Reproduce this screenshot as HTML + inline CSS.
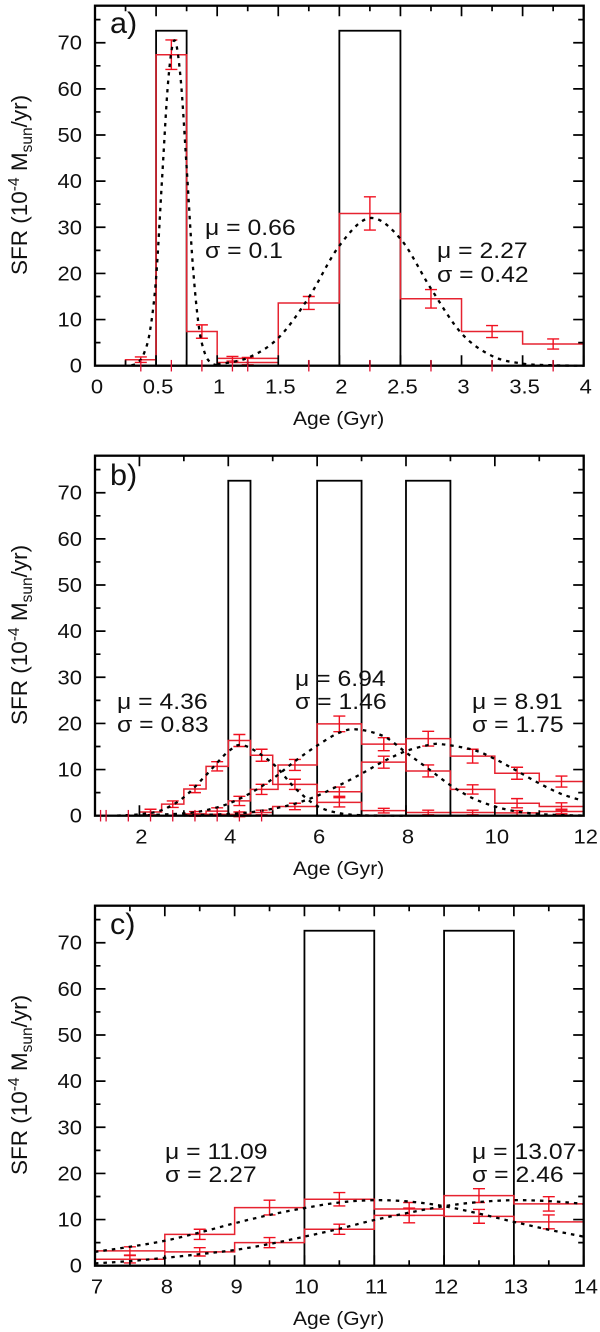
<!DOCTYPE html>
<html lang="en">
<head>
<meta charset="utf-8">
<title>Star formation rate versus age</title>
<style>
  html, body { margin: 0; padding: 0; background: #fff; }
  svg { display: block; }
  text { font-family: "Liberation Sans", sans-serif; fill: #111; }
  .stat { font-size: 22.5px; }
  .panel-tag { font-size: 30px; }
  .ytitle { font-size: 22.5px; }
  .xtitle { font-size: 19.5px; }
</style>
</head>
<body>
<svg id="chart" xmlns="http://www.w3.org/2000/svg" width="600" height="1332" viewBox="0 0 600 1332">
  <rect x="0" y="0" width="600" height="1332" fill="#fff"/>
  <g id="marks"></g>

  <g>
    <text class="panel-tag" transform="translate(110 33) scale(1.02 1)">a)</text>
    <text class="stat" transform="translate(205 235) scale(1.1 1)">μ = 0.66</text>
    <text class="stat" transform="translate(205 258) scale(1.1 1)">σ = 0.1</text>
    <text class="stat" transform="translate(437 258) scale(1.1 1)">μ = 2.27</text>
    <text class="stat" transform="translate(437 282) scale(1.1 1)">σ = 0.42</text>
    <text class="ytitle" transform="translate(27 275) rotate(-90)">SFR (10<tspan dy="-8" font-size="15.5">-4</tspan><tspan dy="8"> M</tspan><tspan dy="5" font-size="15.5">sun</tspan><tspan dy="-5">/yr)</tspan></text>
    <text class="xtitle" transform="translate(293 425) scale(1.08 1)">Age (Gyr)</text>
  </g>

  <g>
    <text class="panel-tag" transform="translate(110 485) scale(1.02 1)">b)</text>
    <text class="stat" transform="translate(117 709) scale(1.1 1)">μ = 4.36</text>
    <text class="stat" transform="translate(117 732) scale(1.1 1)">σ = 0.83</text>
    <text class="stat" transform="translate(295 686) scale(1.1 1)">μ = 6.94</text>
    <text class="stat" transform="translate(295 709) scale(1.1 1)">σ = 1.46</text>
    <text class="stat" transform="translate(472 709) scale(1.1 1)">μ = 8.91</text>
    <text class="stat" transform="translate(472 732) scale(1.1 1)">σ = 1.75</text>
    <text class="ytitle" transform="translate(27 725) rotate(-90)">SFR (10<tspan dy="-8" font-size="15.5">-4</tspan><tspan dy="8"> M</tspan><tspan dy="5" font-size="15.5">sun</tspan><tspan dy="-5">/yr)</tspan></text>
    <text class="xtitle" transform="translate(293 875) scale(1.08 1)">Age (Gyr)</text>
  </g>

  <g>
    <text class="panel-tag" transform="translate(110 934) scale(1.02 1)">c)</text>
    <text class="stat" transform="translate(165 1159) scale(1.1 1)">μ = 11.09</text>
    <text class="stat" transform="translate(165 1182) scale(1.1 1)">σ = 2.27</text>
    <text class="stat" transform="translate(472 1159) scale(1.1 1)">μ = 13.07</text>
    <text class="stat" transform="translate(472 1182) scale(1.1 1)">σ = 2.46</text>
    <text class="ytitle" transform="translate(27 1175) rotate(-90)">SFR (10<tspan dy="-8" font-size="15.5">-4</tspan><tspan dy="8"> M</tspan><tspan dy="5" font-size="15.5">sun</tspan><tspan dy="-5">/yr)</tspan></text>
    <text class="xtitle" transform="translate(293 1325) scale(1.08 1)">Age (Gyr)</text>
  </g>
</svg>

<script>
// ---------- shared axis data ----------
const yMajorTicks = [0, 10, 20, 30, 40, 50, 60, 70];
const yMinorTicks = [5, 15, 25, 35, 45, 55, 65, 75];

// ---------- panel a ----------
const aXDomain = [0, 4];
const aXMajor = [0, 0.5, 1, 1.5, 2, 2.5, 3, 3.5, 4];
const aXMajorLabels = ["0", "0.5", "1", "1.5", "2", "2.5", "3", "3.5", "4"];
const aXMinor = [0.25, 0.75, 1.25, 1.75, 2.25, 2.75, 3.25, 3.75];
const aBarStarts = [0.5, 2];
const aBarEnds = [0.75, 2.5];
const aBarHeights = [72.6, 72.6];
const aEdges1 = [0.25, 0.5, 0.75, 1, 1.5, 2, 2.5, 3, 3.5, 4];
const aValues1 = [1.3, 67.4, 7.4, 1.6, 13.6, 33, 14.5, 7.4, 4.7];
const aEdges2 = [1, 1.5];
const aValues2 = [0.7];
const aErrX = [0.375, 0.625, 0.875, 1.125, 1.25, 1.75, 2.25, 2.75, 3.25, 3.75];
const aErrY = [1.3, 67.4, 7.4, 1.5, 1, 13.6, 33, 14.5, 7.4, 4.7];
const aErrE = [0.6, 3.2, 1.45, 0.5, 0.8, 1.4, 3.6, 2, 1.3, 1.1];
const aZeroX = [0.375, 0.625, 0.875, 1.125, 1.25, 1.75, 2.25, 2.75, 3.25, 3.75];
const aCurve1X = [0.3, 0.35, 0.4, 0.45, 0.5, 0.55, 0.6, 0.65, 0.7, 0.75, 0.8, 0.85, 0.9, 0.95, 1.0];
const aCurve1Y = [0.1, 0.6, 2.6, 7.5, 19, 41, 62, 70.5, 62.5, 43, 22, 8.5, 2.6, 0.6, 0.1];
const aCurve2X = [1.0, 1.25, 1.5, 1.75, 2, 2.25, 2.5, 2.75, 3, 3.25, 3.5, 3.75, 4];
const aCurve2Y = [0.3, 1.7, 6, 14.8, 26, 32, 27.5, 16.7, 7, 2.1, 0.45, 0.1, 0];

// ---------- panel b ----------
const bXDomain = [1, 12];
const bXMajor = [2, 4, 6, 8, 10, 12];
const bXMajorLabels = ["2", "4", "6", "8", "10", "12"];
const bXMinor = [3, 5, 7, 9, 11];
const bBarStarts = [4, 6, 8];
const bBarEnds = [4.5, 7, 9];
const bBarHeights = [72.6, 72.6, 72.6];
const bEdges1 = [2, 2.5, 3, 3.5, 4, 4.5, 5, 6, 7, 8, 9, 10, 11, 12];
const bValues1 = [0.8, 2.5, 5.8, 10.7, 16.3, 13.1, 6.8, 2.9, 1.1, 0.7, 0.7, 0.6, 0.9];
const bEdges2 = [3, 3.5, 4, 4.5, 5.12, 6, 7, 8, 9, 10, 11, 12];
const bValues2 = [0.4, 1, 3.2, 5.7, 11, 19.9, 15.5, 9.7, 5.7, 2.7, 2];
const bEdges3 = [3, 3.5, 4, 4.5, 5, 6, 7, 8, 9, 10, 11, 12];
const bValues3 = [0.2, 0.3, 0.3, 0.7, 2, 5.2, 11.6, 16.7, 12.9, 9.2, 7.4];
const bErr1X = [2.25, 2.75, 3.25, 3.75, 4.25, 4.75, 5.5, 6.5, 7.5, 8.5, 9.5, 10.5, 11.5];
const bErr1Y = [0.8, 2.5, 5.8, 10.7, 16.3, 13.1, 6.8, 2.9, 1.1, 0.7, 0.7, 0.6, 0.9];
const bErr1E = [0.6, 0.7, 0.8, 1, 1.3, 1.3, 1.1, 1, 0.5, 0.5, 0.5, 0.5, 0.5];
const bErr2X = [3.25, 3.75, 4.25, 4.75, 5.5, 6.5, 7.5, 8.5, 9.5, 10.5, 11.5];
const bErr2Y = [0.4, 1, 3.2, 5.7, 11, 19.9, 15.5, 9.7, 5.7, 2.7, 2];
const bErr2E = [0.5, 0.7, 1, 1.1, 1.2, 1.7, 1.4, 1.3, 1, 1, 0.8];
const bErr3X = [4.25, 4.75, 5.5, 6.5, 7.5, 8.5, 9.5, 10.5, 11.5];
const bErr3Y = [0.3, 0.7, 2, 5.2, 11.6, 16.7, 12.9, 9.2, 7.4];
const bErr3E = [0.5, 0.5, 0.7, 1, 1.3, 1.6, 1.5, 1.3, 1.2];
const bZeroX = [1.125, 1.25, 1.75, 2.25, 2.75, 3.25, 3.75, 4.25, 4.75];
const bCurve1X = [1.5, 2, 2.5, 3, 3.5, 4, 4.36, 5, 5.5, 6, 6.5, 7, 7.5, 8];
const bCurve1Y = [0.05, 0.3, 1.2, 4, 8.8, 13.9, 15.2, 11.3, 6, 2.1, 0.55, 0.1, 0.02, 0];
const bCurve2X = [2, 3, 3.5, 4, 4.5, 5, 5.5, 6, 6.5, 6.9, 7.5, 8, 8.5, 9, 9.5, 10, 10.5, 11, 11.5, 12];
const bCurve2Y = [0.04, 0.5, 1.2, 2.6, 4.9, 8, 11.8, 15.2, 18, 18.7, 17.2, 13.7, 10.2, 6.6, 3.8, 2, 0.9, 0.36, 0.13, 0.04];
const bCurve3X = [3, 4, 4.5, 5, 5.5, 6, 6.5, 7, 7.5, 8, 8.5, 8.8, 9.5, 10, 10.5, 11, 11.5, 12];
const bCurve3Y = [0.06, 0.36, 0.75, 1.5, 2.6, 4.3, 6.6, 9.1, 11.8, 14, 15.3, 15.5, 14.3, 12.3, 9.7, 7, 4.7, 3.2];

// ---------- panel c ----------
const cXDomain = [7, 14];
const cXMajor = [7, 8, 9, 10, 11, 12, 13, 14];
const cXMajorLabels = ["7", "8", "9", "10", "11", "12", "13", "14"];
const cXMinor = [7.5, 8.5, 9.5, 10.5, 11.5, 12.5, 13.5];
const cBarStarts = [10, 12];
const cBarEnds = [11, 13];
const cBarHeights = [72.6, 72.6];
const cEdges = [7, 8, 9, 10, 11, 12, 13, 14];
const cValues1 = [3.2, 6.8, 12.6, 14.4, 12.3, 10.7, 9.5];
const cValues2 = [1.4, 3, 5, 7.9, 10.9, 15.2, 13.4];
const cErrX = [7.5, 8.5, 9.5, 10.5, 11.5, 12.5, 13.5];
const cErr1E = [0.9, 1.1, 1.6, 1.45, 1.4, 1.5, 1.5];
const cErr2E = [0.8, 0.9, 1.1, 1.1, 1.6, 1.5, 1.55];
const cCurve1X = [7, 7.5, 8, 8.5, 9, 9.5, 10, 10.5, 11, 11.5, 12, 12.5, 13, 13.5, 14];
const cCurve1Y = [3, 4.1, 5.4, 7.2, 9.2, 11, 12.5, 13.7, 14.2, 13.9, 12.9, 11.3, 9.5, 7.8, 6.3];
const cCurve2Y = [0.5, 1, 1.7, 2.5, 3.4, 4.7, 6.3, 8, 9.9, 11.5, 12.9, 13.8, 14.2, 14, 13.4];

// ---------- drawing ----------
const NS = "http://www.w3.org/2000/svg";
const root = document.getElementById("marks");
const RED = "#e62330";
const plotLeft = 95;
const plotRight = 583.7;
const plotHeight = 360;
const yScale = 4.614;
const tickLong = 10.5;
const tickShort = 5.5;
const capHalf = 6;
const zeroHalf = 1.25;

function make(tag, attrs, parent) {
  const node = document.createElementNS(NS, tag);
  for (const k in attrs) node.setAttribute(k, attrs[k]);
  parent.appendChild(node);
  return node;
}

function smoothPath(px, py) {
  let d = "M" + px[0].toFixed(2) + " " + py[0].toFixed(2);
  for (let i = 0; i < px.length - 1; i++) {
    const i0 = Math.max(i - 1, 0), i3 = Math.min(i + 2, px.length - 1);
    const c1x = px[i] + (px[i + 1] - px[i0]) / 6, c1y = py[i] + (py[i + 1] - py[i0]) / 6;
    const c2x = px[i + 1] - (px[i3] - px[i]) / 6, c2y = py[i + 1] - (py[i3] - py[i]) / 6;
    d += "C" + c1x.toFixed(2) + " " + c1y.toFixed(2) + " " + c2x.toFixed(2) + " " + c2y.toFixed(2) + " " + px[i + 1].toFixed(2) + " " + py[i + 1].toFixed(2);
  }
  return d;
}

function drawPanel(p) {
  const bottom = p.bottom;
  const top = bottom - plotHeight;
  const xs = v => plotLeft + (v - p.domain[0]) / (p.domain[1] - p.domain[0]) * (plotRight - plotLeft);
  const ys = v => bottom - v * yScale;

  const g = make("g", {}, root);
  
  

  // black burst boxes
  p.barStarts.forEach((s, i) => {
    const bar = make("rect", {
      x: xs(s), y: ys(p.barHeights[i]),
      width: xs(p.barEnds[i]) - xs(s), height: p.barHeights[i] * yScale,
      fill: "none", stroke: "#000", "stroke-width": 1.8
    }, g);
    
    
  });

  // red histograms
  p.steps.forEach(st => {
    let d = "M" + xs(st.edges[0]) + " " + ys(0);
    st.values.forEach((v, i) => {
      d += "L" + xs(st.edges[i]) + " " + ys(v) + "L" + xs(st.edges[i + 1]) + " " + ys(v);
    });
    const step = make("path", { d: d, fill: "none", stroke: RED, "stroke-width": 1.5 }, g);
    
    
  });

  // error bars
  p.errors.forEach(er => {
    er.x.forEach((x, i) => {
      const hi = ys(er.y[i] + er.e[i]), lo = ys(er.y[i] - er.e[i]), cx = xs(x);
      const d = "M" + cx + " " + hi + "L" + cx + " " + lo +
        "M" + (cx - capHalf) + " " + hi + "L" + (cx + capHalf) + " " + hi +
        "M" + (cx - capHalf) + " " + lo + "L" + (cx + capHalf) + " " + lo;
      const bar = make("path", { d: d, fill: "none", stroke: "#f01020", "stroke-width": 1.4 }, g);
      
      
    });
  });

  // gaussian fits
  p.curves.forEach(c => {
    const curve = make("path", {
      d: smoothPath(c.x.map(xs), c.y.map(ys)), fill: "none", stroke: "#000",
      "stroke-width": 2.3, "stroke-dasharray": "3.5 5"
    }, g);
    
    
  });

  // ticks
  let tickPath = "";
  yMajorTicks.forEach(v => {
    if (v === 0) return;
    tickPath += "M" + plotLeft + " " + ys(v) + "h" + tickLong + "M" + plotRight + " " + ys(v) + "h-" + tickLong;
  });
  yMinorTicks.forEach(v => {
    tickPath += "M" + plotLeft + " " + ys(v) + "h" + tickShort + "M" + plotRight + " " + ys(v) + "h-" + tickShort;
  });
  p.xMajor.forEach(v => {
    tickPath += "M" + xs(v) + " " + bottom + "v-" + tickLong + "M" + xs(v) + " " + top + "v" + tickLong;
  });
  p.xMinor.forEach(v => {
    tickPath += "M" + xs(v) + " " + bottom + "v-" + tickShort + "M" + xs(v) + " " + top + "v" + tickShort;
  });
  const ticks = make("path", { d: tickPath, fill: "none", stroke: "#000", "stroke-width": 1.7 }, g);
  
  

  // frame
  const frame = make("rect", {
    x: plotLeft, y: top, width: plotRight - plotLeft, height: plotHeight,
    fill: "none", stroke: "#000", "stroke-width": 2.3
  }, g);
  
  

  // zero-level error ticks sit over the baseline
  p.zeroX.forEach(x => {
    const z = make("line", {
      x1: xs(x), x2: xs(x), y1: ys(zeroHalf), y2: ys(-zeroHalf),
      stroke: "#e01030", "stroke-width": 1.3
    }, g);
    
    
  });

  // tick labels
  yMajorTicks.forEach(v => {
    const t = make("text", {
      transform: "translate(82 " + (ys(v) + 7) + ") scale(1.1 1)",
      "text-anchor": "end", "font-size": 20
    }, g);
    t.textContent = String(v);
    
    
  });
  p.xMajor.forEach((v, i) => {
    const t = make("text", {
      transform: "translate(" + (xs(v) + 2) + " " + (bottom + 28) + ") scale(1.1 1)",
      "text-anchor": "middle", "font-size": 20
    }, g);
    t.textContent = p.xLabels[i];
    
    
  });
}

drawPanel({
  id: "a", bottom: 365.7, domain: aXDomain,
  xMajor: aXMajor, xLabels: aXMajorLabels, xMinor: aXMinor,
  barStarts: aBarStarts, barEnds: aBarEnds, barHeights: aBarHeights,
  steps: [{ edges: aEdges1, values: aValues1 }, { edges: aEdges2, values: aValues2 }],
  errors: [{ x: aErrX, y: aErrY, e: aErrE }],
  zeroX: aZeroX,
  curves: [{ x: aCurve1X, y: aCurve1Y }, { x: aCurve2X, y: aCurve2Y }]
});

drawPanel({
  id: "b", bottom: 815.7, domain: bXDomain,
  xMajor: bXMajor, xLabels: bXMajorLabels, xMinor: bXMinor,
  barStarts: bBarStarts, barEnds: bBarEnds, barHeights: bBarHeights,
  steps: [
    { edges: bEdges1, values: bValues1 },
    { edges: bEdges2, values: bValues2 },
    { edges: bEdges3, values: bValues3 }
  ],
  errors: [
    { x: bErr1X, y: bErr1Y, e: bErr1E },
    { x: bErr2X, y: bErr2Y, e: bErr2E },
    { x: bErr3X, y: bErr3Y, e: bErr3E }
  ],
  zeroX: bZeroX,
  curves: [
    { x: bCurve1X, y: bCurve1Y },
    { x: bCurve2X, y: bCurve2Y },
    { x: bCurve3X, y: bCurve3Y }
  ]
});

drawPanel({
  id: "c", bottom: 1265.7, domain: cXDomain,
  xMajor: cXMajor, xLabels: cXMajorLabels, xMinor: cXMinor,
  barStarts: cBarStarts, barEnds: cBarEnds, barHeights: cBarHeights,
  steps: [{ edges: cEdges, values: cValues1 }, { edges: cEdges, values: cValues2 }],
  errors: [
    { x: cErrX, y: cValues1, e: cErr1E },
    { x: cErrX, y: cValues2, e: cErr2E }
  ],
  zeroX: [],
  curves: [{ x: cCurve1X, y: cCurve1Y }, { x: cCurve1X, y: cCurve2Y }]
});
</script>
</body>
</html>
